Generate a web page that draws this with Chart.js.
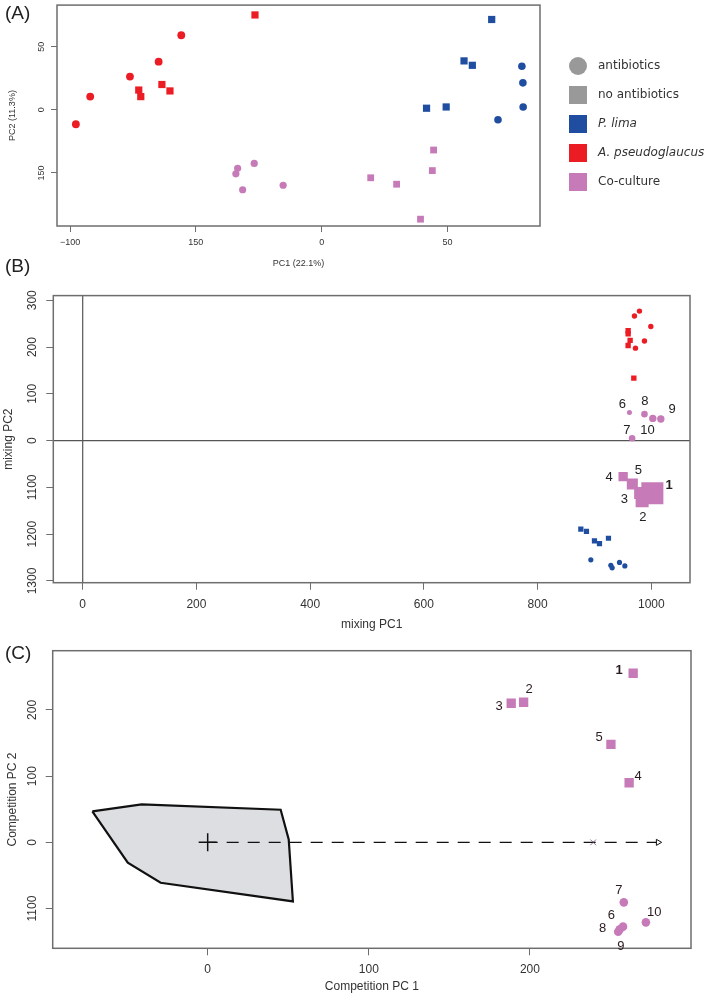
<!DOCTYPE html>
<html>
<head>
<meta charset="utf-8">
<script src="https://cdn.jsdelivr.net/npm/chart.js@4.4.1/dist/chart.umd.min.js"></script>
<style>
body { margin: 0; background: #fff; width: 709px; height: 997px; overflow: hidden; position: relative; }
canvas { position: absolute; left: 0; }
.tag { position: absolute; left: 5px; font: 19px/19px "Liberation Sans", Arial, sans-serif; color: #222; z-index: 2; }
</style>
</head>
<body>
<canvas id="chartA" width="709" height="280" style="top:0px"></canvas>
<canvas id="chartB" width="709" height="360" style="top:280px"></canvas>
<canvas id="chartC" width="709" height="357" style="top:640px"></canvas>
<div class="tag" style="top:3px">(A)</div>
<div class="tag" style="top:256px">(B)</div>
<div class="tag" style="top:643px">(C)</div>
<script>
// ---- panel A : PCA ----
var pcaXTicks = [-100, -50, 0, 50];
var pcaXLabels = ['\u2212100', '150', '0', '50'];
var pcaYTicks = [-50, 0, 50];
var pcaYLabels = ['150', '0', '50'];

var pcaLimaAbX = [79.6, 80.0, 80.1, 70.1];
var pcaLimaAbY = [34.6, 21.4, 2.3, -7.8];
var pcaLimaNoX = [67.6, 56.6, 59.9, 41.7, 49.5];
var pcaLimaNoY = [71.6, 38.8, 35.3, 1.3, 2.3];
var pcaPseuAbX = [-97.7, -92.0, -76.2, -64.8, -55.8];
var pcaPseuAbY = [-11.4, 10.5, 26.4, 38.2, 59.1];
var pcaPseuNoX = [-72.7, -71.9, -63.5, -60.3, -26.5];
var pcaPseuNoY = [15.7, 10.5, 20.1, 15.0, 75.2];
var pcaCoAbX = [-33.4, -34.1, -26.8, -31.4, -15.3];
var pcaCoAbY = [-46.3, -50.7, -42.4, -63.3, -59.7];
var pcaCoNoX = [19.5, 29.8, 44.5, 44.0, 39.3];
var pcaCoNoY = [-53.8, -58.9, -31.8, -48.1, -86.6];

var legendLabels = ['antibiotics', 'no antibiotics', 'P. lima', 'A. pseudoglaucus', 'Co-culture'];

// ---- panel B : mixing ----
var mixXTicks = [0, 200, 400, 600, 800, 1000];
var mixXLabels = ['0', '200', '400', '600', '800', '1000'];
var mixYTicks = [300, 200, 100, 0, -100, -200, -300];
var mixYLabels = ['300', '200', '100', '0', '1100', '1200', '1300'];

var mixLimaAbX = [893.6, 928.8, 931.1, 944.0, 953.4];
var mixLimaAbY = [-254.8, -266.5, -271.9, -260.3, -267.8];
var mixLimaNoX = [876.0, 885.9, 900.0, 908.8, 924.6];
var mixLimaNoY = [-189.3, -194.2, -214.1, -220.2, -208.7];
var mixPseuAbX = [979.1, 970.3, 999.1, 987.9, 972.1];
var mixPseuAbY = [276.9, 266.5, 243.8, 212.8, 197.7];
var mixPseuNoX = [959.2, 959.2, 962.7, 959.2, 969.2];
var mixPseuNoY = [234.9, 228.1, 214.3, 203.3, 133.7];
var mixCoNoLabels = ['1', '2', '3', '4', '5'];
var mixCoNoX = [1001.8, 983.8, 980.3, 950.4, 966.6];
var mixCoNoY = [-112.6, -128.7, -112.2, -77.1, -92.6];
var mixCoAbLabels = ['6', '7', '8', '9', '10'];
var mixCoAbX = [961.5, 966.2, 987.9, 1016.7, 1002.6];
var mixCoAbY = [60.0, 5.0, 56.6, 46.3, 47.5];

// ---- panel C : competition ----
var compXTicks = [0, 100, 200];
var compXLabels = ['0', '100', '200'];
var compYTicks = [200, 100, 0, -100];
var compYLabels = ['200', '100', '0', '1100'];

var compSqLabels = ['1', '2', '3', '4', '5'];
var compSqX = [264.1, 196.1, 188.4, 261.6, 250.3];
var compSqY = [255.3, 211.5, 210.0, 90.0, 148.0];
var compCircLabels = ['6', '7', '8', '9', '10'];
var compCircX = [257.8, 258.3, 254.8, 255.8, 272.0];
var compCircY = [-127.3, -90.6, -135.0, -131.3, -120.8];
var hullX = [-71.6, -41.0, 45.3, 50.3, 52.9, -29.2, -49.6, -71.6];
var hullY = [46.8, 57.4, 49.2, 4.5, -89.1, -61.0, -30.8, 46.8];
var arrowX = [0, 279.6];
var arrowY = [0, 0];
var markX = [239.3];
var markY = [0];

var FONT = '"Liberation Sans", Arial, Helvetica, sans-serif';
var BLUE = '#1f4ea1', RED = '#ec1c24', PINK = '#c67bb8', GREY = '#999999';
var TXT = '#333333', AXC = '#6e6e6e';

function pts(xs, ys) {
    return xs.map(function (x, i) { return {x: x, y: ys[i]}; });
}

function axis(min, max, ticks, labels, o) {
    return {
        type: 'linear',
        min: min,
        max: max,
        afterBuildTicks: function (s) { s.ticks = ticks.map(function (v) { return {value: v}; }); },
        afterFit: function (s) {
            if (s.isHorizontal()) s.height = o.size; else s.width = o.size;
            s.paddingTop = 0; s.paddingBottom = 0; s.paddingLeft = 0; s.paddingRight = 0;
        },
        grid: {drawOnChartArea: false, drawTicks: true, tickLength: o.tl, color: AXC, lineWidth: 1},
        border: {display: false},
        ticks: {
            autoSkip: false, padding: o.pad, color: TXT,
            font: {family: FONT, size: o.fs},
            minRotation: o.rot, maxRotation: o.rot,
            crossAlign: o.rot ? 'center' : 'near',
            callback: function (v, i) { return labels[i]; }
        },
        title: {display: true, text: o.title, color: TXT, font: {family: FONT, size: o.fs}, padding: o.tpad}
    };
}

var boxPlugin = {
    id: 'box',
    beforeDatasetsDraw: function (chart, args, opts) {
        var a = chart.chartArea, ctx = chart.ctx;
        ctx.save();
        if (opts.zeroLines) {
            var x0 = chart.scales.x.getPixelForValue(0);
            var y0 = chart.scales.y.getPixelForValue(0);
            ctx.strokeStyle = '#555';
            ctx.lineWidth = 1.2;
            ctx.beginPath();
            ctx.moveTo(x0, a.top); ctx.lineTo(x0, a.bottom);
            ctx.moveTo(a.left, y0); ctx.lineTo(a.right, y0);
            ctx.stroke();
        }
        ctx.strokeStyle = AXC;
        ctx.lineWidth = 1.5;
        ctx.strokeRect(a.left, a.top, a.right - a.left, a.bottom - a.top);
        ctx.restore();
    }
};

var numberLabels = {
    id: 'numberLabels',
    afterDatasetsDraw: function (chart, args, opts) {
        var ctx = chart.ctx;
        ctx.save();
        ctx.textAlign = 'center';
        ctx.textBaseline = 'middle';
        ctx.fillStyle = opts.color || '#222';
        (opts.sets || []).forEach(function (set) {
            var meta = chart.getDatasetMeta(set.index);
            meta.data.forEach(function (el, i) {
                var t = set.labels[i];
                ctx.font = (t === '1' ? 'bold ' : '') + '13px ' + FONT;
                ctx.fillText(t, el.x + set.dx[i], el.y + set.dy[i]);
            });
        });
        ctx.restore();
    }
};

var pcaLegend = {
    id: 'pcaLegend',
    afterDraw: function (chart) {
        var ctx = chart.ctx;
        var marks = [['circle', GREY], ['rect', GREY], ['rect', BLUE], ['rect', RED], ['rect', PINK]];
        ctx.save();
        ctx.textBaseline = 'middle';
        ctx.fillStyle = TXT;
        legendLabels.forEach(function (t, i) {
            var y = 66 + i * 29;
            ctx.fillStyle = marks[i][1];
            if (marks[i][0] === 'circle') {
                ctx.beginPath(); ctx.arc(578, y, 9, 0, Math.PI * 2); ctx.fill();
            } else {
                ctx.fillRect(569, y - 9, 18, 18);
            }
            ctx.fillStyle = TXT;
            ctx.font = (i === 2 || i === 3 ? 'italic ' : '') + '12px "DejaVu Sans", Verdana, sans-serif';
            ctx.fillText(t, 598, y);
        });
        ctx.restore();
    }
};

function scatterSet(xs, ys, color, style, radius, extra) {
    var d = {
        data: pts(xs, ys),
        backgroundColor: color,
        borderColor: color,
        borderWidth: 0,
        pointStyle: style,
        pointRadius: radius,
        pointHoverRadius: radius
    };
    for (var k in extra || {}) d[k] = extra[k];
    return d;
}

var common = {
    responsive: false,
    animation: false,
    devicePixelRatio: 1,
    events: []
};

function opts(layout, scales, plugins) {
    var o = {};
    for (var k in common) o[k] = common[k];
    o.layout = {padding: layout};
    o.scales = scales;
    plugins.legend = {display: false};
    plugins.tooltip = {enabled: false};
    o.plugins = plugins;
    return o;
}

// panel A
new Chart(document.getElementById('chartA'), {
    type: 'scatter',
    data: {
        datasets: [
            scatterSet(pcaLimaAbX, pcaLimaAbY, BLUE, 'circle', 3.8),
            scatterSet(pcaLimaNoX, pcaLimaNoY, BLUE, 'rect', 5.1),
            scatterSet(pcaPseuAbX, pcaPseuAbY, RED, 'circle', 3.9),
            scatterSet(pcaPseuNoX, pcaPseuNoY, RED, 'rect', 5.1),
            scatterSet(pcaCoAbX, pcaCoAbY, PINK, 'circle', 3.6),
            scatterSet(pcaCoNoX, pcaCoNoY, PINK, 'rect', 4.8)
        ]
    },
    options: opts({left: 0, top: 1, right: 169, bottom: 0}, {
        x: axis(-105.2, 86.8, pcaXTicks, pcaXLabels,
            {size: 54, tl: 6, pad: 4.9, fs: 9, rot: 0, title: 'PC1 (22.1%)', tpad: {top: 0, bottom: 10.6}}),
        y: axis(-92, 83, pcaYTicks, pcaYLabels,
            {size: 57, tl: 6, pad: 1.8, fs: 9, rot: 90, title: 'PC2 (11.3%)', tpad: {top: 7.6, bottom: 0}})
    }, {box: {}}),
    plugins: [boxPlugin, pcaLegend]
});

// panel B
new Chart(document.getElementById('chartB'), {
    type: 'scatter',
    data: {
        datasets: [
            scatterSet(mixLimaAbX, mixLimaAbY, BLUE, 'circle', 2.6),
            scatterSet(mixLimaNoX, mixLimaNoY, BLUE, 'rect', 3.7),
            scatterSet(mixPseuAbX, mixPseuAbY, RED, 'circle', 2.7),
            scatterSet(mixPseuNoX, mixPseuNoY, RED, 'rect', 3.8),
            scatterSet(mixCoNoX, mixCoNoY, PINK, 'rect', [15.6, 9.2, 8.5, 6.6, 7.8]),
            scatterSet(mixCoAbX, mixCoAbY, PINK, 'circle', [2.5, 3.3, 3.3, 3.7, 3.7])
        ]
    },
    options: opts({left: 0, top: 5.7, right: 19, bottom: 0}, {
        x: axis(-51.7, 1068, mixXTicks, mixXLabels,
            {size: 57.3, tl: 7, pad: 8.1, fs: 12, rot: 0, title: 'mixing PC1', tpad: {top: 0, bottom: 7.8}}),
        y: axis(-303.7, 310, mixYTicks, mixYLabels,
            {size: 53.3, tl: 7, pad: 0, fs: 12, rot: 90, title: 'mixing PC2', tpad: {top: 1.8, bottom: 0}})
    }, {
        box: {zeroLines: true},
        numberLabels: {
            color: '#222',
            sets: [
                {index: 4, labels: mixCoNoLabels, dx: [16.8, 0.7, -15.7, -14, 6.1], dy: [-7.9, 17, 6.7, 0.3, -13.8]},
                {index: 5, labels: mixCoAbLabels, dx: [-7, -5.3, 0.4, 11.3, -5.4], dy: [-8.4, -8, -12.6, -9.3, 11.6]}
            ]
        }
    }),
    plugins: [boxPlugin, numberLabels]
});

// panel C
new Chart(document.getElementById('chartC'), {
    type: 'scatter',
    data: {
        datasets: [
            scatterSet(compSqX, compSqY, PINK, 'rect', 6.6),
            scatterSet(compCircX, compCircY, PINK, 'circle', 4.3),
            {
                data: pts(markX, markY), pointStyle: 'crossRot', pointRadius: 4,
                borderColor: 'rgba(90,60,90,0.7)', borderWidth: 1, backgroundColor: 'transparent'
            },
            {
                data: pts(arrowX, arrowY), showLine: true, borderColor: '#111', borderWidth: 1.3,
                borderDash: [12, 9], borderDashOffset: 2,
                pointRadius: [0, 3.5], pointStyle: 'triangle', rotation: 90,
                pointBorderColor: '#111', pointBackgroundColor: '#fff', pointBorderWidth: 1, order: 5
            },
            {
                data: [{x: 0, y: 0}], pointStyle: 'cross', pointRadius: 9,
                borderColor: '#111', borderWidth: 1.5, order: 4
            },
            {
                data: pts(hullX, hullY), showLine: true, fill: 'shape', tension: 0,
                borderColor: '#111', borderWidth: 2.2, backgroundColor: '#dcdee1',
                pointRadius: 0, order: 10
            }
        ]
    },
    options: opts({left: 0, top: 10.7, right: 18, bottom: 0}, {
        x: axis(-96.2, 300, compXTicks, compXLabels,
            {size: 48.7, tl: 7, pad: 7.5, fs: 12, rot: 0, title: 'Competition PC 1', tpad: {top: 0, bottom: 2.8}}),
        y: axis(-160, 289.4, compYTicks, compYLabels,
            {size: 52.7, tl: 7, pad: 0, fs: 12, rot: 90, title: 'Competition PC 2', tpad: {top: 5.3, bottom: 0}})
    }, {
        box: {},
        numberLabels: {
            color: '#2b1b1e',
            sets: [
                {index: 0, labels: compSqLabels, dx: [-14, 5.6, -12, 9, -11.7], dy: [-2.6, -13, 2.7, -6.7, -7]},
                {index: 1, labels: compCircLabels, dx: [-11.6, -5, -15.6, 1, 8.3], dy: [-11.7, -12.3, -3.4, 17.4, -10]}
            ]
        }
    }),
    plugins: [boxPlugin, numberLabels]
});
</script>
</body>
</html>
